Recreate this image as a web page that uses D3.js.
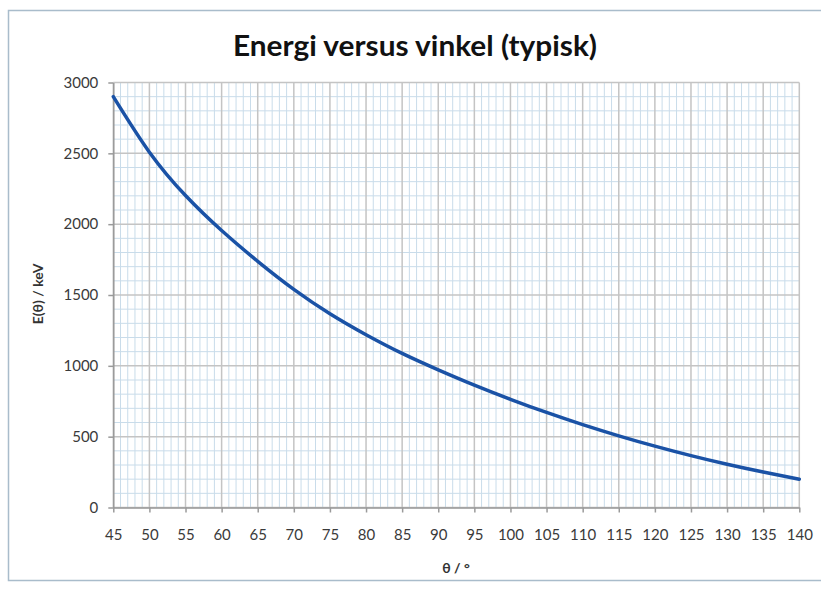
<!DOCTYPE html>
<html>
<head>
<meta charset="utf-8">
<script src="https://cdn.jsdelivr.net/npm/d3@7"></script>
<style>
  body { margin: 0; background: #fff; }
  svg { display: block; font-family: Lato, "Open Sans", sans-serif; }
</style>
</head>
<body>
<div id="chart"></div>
<script>
// data
var angles = [45, 50, 55, 60, 65, 70, 75, 80, 85, 90, 95, 100, 105, 110, 115, 120, 125, 130, 135, 140]
var energy = [2900, 2508, 2202, 1955, 1738, 1540, 1368, 1220, 1088, 972, 864, 764, 671, 585, 506, 433, 366, 305, 250, 200]

var xTickValues = [45, 50, 55, 60, 65, 70, 75, 80, 85, 90, 95, 100, 105, 110, 115, 120, 125, 130, 135, 140]
var yTickValues = [0, 500, 1000, 1500, 2000, 2500, 3000]

var title = "Energi versus vinkel (typisk)"
var xTitle = "θ / °"
var yTitle = "E(θ) / keV"

var width = 821
var height = 594

var svg = d3.select("#chart")
  .append("svg")
  .attr("width", width)
  .attr("height", height)

// outer chart frame
svg.append("rect")
  .attr("x", 8.5)
  .attr("y", 10.5)
  .attr("width", 830)
  .attr("height", 570)
  .attr("fill", "#fff")
  .attr("stroke", "#a9bccb")
  .attr("stroke-width", 1.5)

var x = d3.scaleLinear()
  .domain([45, 140])
  .range([113.3, 799.3])

var y = d3.scaleLinear()
  .domain([0, 3000])
  .range([507.5, 82.5])

var grid = svg.append("g")

// minor grid
grid.selectAll("line.vminor")
  .data(d3.range(45, 141, 1).filter(function (d) { return d % 5 != 0 }))
  .enter()
  .append("line")
  .attr("x1", function (d) { return x(d) })
  .attr("x2", function (d) { return x(d) })
  .attr("y1", y(0))
  .attr("y2", y(3000))
  .attr("stroke", "#c9dcea")
  .attr("stroke-width", 1)

grid.selectAll("line.hminor")
  .data(d3.range(0, 3001, 100).filter(function (d) { return d % 500 != 0 }))
  .enter()
  .append("line")
  .attr("x1", x(45))
  .attr("x2", x(140))
  .attr("y1", function (d) { return y(d) })
  .attr("y2", function (d) { return y(d) })
  .attr("stroke", "#c9dcea")
  .attr("stroke-width", 1)

// major grid
grid.selectAll("line.vmajor")
  .data(xTickValues)
  .enter()
  .append("line")
  .attr("x1", function (d) { return x(d) })
  .attr("x2", function (d) { return x(d) })
  .attr("y1", y(0))
  .attr("y2", y(3000))
  .attr("stroke", "#c4c4c4")
  .attr("stroke-width", 1.5)

grid.selectAll("line.hmajor")
  .data(yTickValues)
  .enter()
  .append("line")
  .attr("x1", x(45))
  .attr("x2", x(140))
  .attr("y1", function (d) { return y(d) })
  .attr("y2", function (d) { return y(d) })
  .attr("stroke", "#c4c4c4")
  .attr("stroke-width", 1.5)

// axes
var xAxis = svg.append("g")
  .attr("transform", "translate(0," + y(0) + ")")
  .call(d3.axisBottom(x).tickValues(xTickValues).tickFormat(d3.format("d"))
    .tickSize(5).tickPadding(17).tickSizeOuter(0))

var yAxis = svg.append("g")
  .attr("transform", "translate(" + x(45) + ",0)")
  .call(d3.axisLeft(y).tickValues(yTickValues).tickFormat(d3.format("d"))
    .tickSize(5).tickPadding(10).tickSizeOuter(0))

svg.selectAll(".domain, .tick line")
  .attr("stroke", "#9a9a9a")
  .attr("stroke-width", 1.5)

svg.selectAll(".tick text")
  .attr("fill", "#3a3a3a")
  .style("font-size", "15px")
  .style("font-family", "Lato, sans-serif")

// curve
var line = d3.line()
  .x(function (d) { return x(d[0]) })
  .y(function (d) { return y(d[1]) })
  .curve(d3.curveNatural)

svg.append("path")
  .datum(d3.zip(angles, energy))
  .attr("d", line)
  .attr("fill", "none")
  .attr("stroke", "#1a52a6")
  .attr("stroke-width", 3.5)
  .attr("stroke-linecap", "round")

// titles
svg.append("text")
  .attr("x", 415)
  .attr("y", 56)
  .attr("text-anchor", "middle")
  .attr("textLength", 364)
  .attr("lengthAdjust", "spacingAndGlyphs")
  .style("font-size", "28px")
  .style("font-weight", "bold")
  .attr("fill", "#111")
  .text(title)

svg.append("text")
  .attr("x", 456)
  .attr("y", 573)
  .attr("text-anchor", "middle")
  .style("font-size", "14px")
  .style("font-weight", "bold")
  .attr("fill", "#333")
  .text(xTitle)

svg.append("text")
  .attr("transform", "translate(43,294) rotate(-90)")
  .attr("text-anchor", "middle")
  .style("font-size", "14px")
  .style("font-weight", "bold")
  .attr("fill", "#333")
  .text(yTitle)
</script>
</body>
</html>
